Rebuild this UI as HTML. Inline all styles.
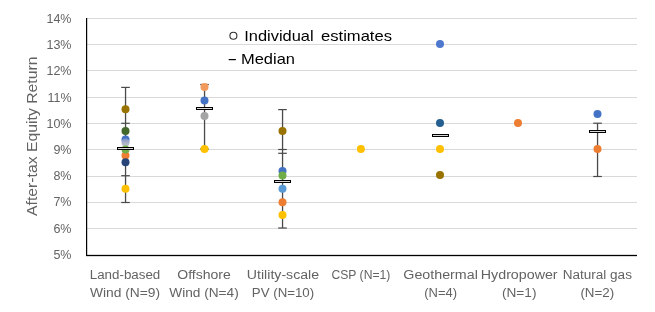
<!DOCTYPE html>
<html><head><meta charset="utf-8"><style>
html,body{margin:0;padding:0;background:#fff;}
svg{display:block;will-change:transform;}
text{font-family:"Liberation Sans",sans-serif;}
.yl{font-size:12.5px;fill:#636363;}
.xl{font-size:12.3px;fill:#636363;}
.yt{font-size:14.4px;fill:#636363;}
.lg{font-size:14.4px;fill:#000;}
</style></head><body>
<svg width="655" height="312" viewBox="0 0 655 312">
<defs><linearGradient id="gg" x1="0" y1="0" x2="0" y2="1"><stop offset="0" stop-color="#7890C8"/><stop offset="0.5" stop-color="#A8B0C8"/><stop offset="1" stop-color="#C0C4C8"/></linearGradient></defs>
<rect x="0" y="0" width="655" height="312" fill="#fff"/>
<rect x="87" y="18" width="550" height="1" fill="#d9d9d9"/>
<rect x="87" y="44" width="550" height="1" fill="#d9d9d9"/>
<rect x="87" y="70" width="550" height="1" fill="#d9d9d9"/>
<rect x="87" y="97" width="550" height="1" fill="#d9d9d9"/>
<rect x="87" y="123" width="550" height="1" fill="#d9d9d9"/>
<rect x="87" y="149" width="550" height="1" fill="#d9d9d9"/>
<rect x="87" y="176" width="550" height="1" fill="#d9d9d9"/>
<rect x="87" y="202" width="550" height="1" fill="#d9d9d9"/>
<rect x="87" y="228" width="550" height="1" fill="#d9d9d9"/>
<rect x="86" y="18" width="1.2" height="237.8" fill="#000"/>
<rect x="86" y="254.85" width="551" height="1.3" fill="#000"/>
<text x="71.5" y="23.00" text-anchor="end" class="yl">14%</text>
<text x="71.5" y="49.20" text-anchor="end" class="yl">13%</text>
<text x="71.5" y="75.40" text-anchor="end" class="yl">12%</text>
<text x="71.5" y="101.60" text-anchor="end" class="yl">11%</text>
<text x="71.5" y="127.80" text-anchor="end" class="yl">10%</text>
<text x="71.5" y="154.00" text-anchor="end" class="yl">9%</text>
<text x="71.5" y="180.20" text-anchor="end" class="yl">8%</text>
<text x="71.5" y="206.40" text-anchor="end" class="yl">7%</text>
<text x="71.5" y="232.60" text-anchor="end" class="yl">6%</text>
<text x="71.5" y="259.00" text-anchor="end" class="yl">5%</text>
<rect x="124.90" y="87.40" width="1.3" height="115.10" fill="#4a4a4a"/>
<rect x="121.20" y="86.80" width="8.6" height="1.2" fill="#4a4a4a"/>
<rect x="121.20" y="122.70" width="8.6" height="1.2" fill="#4a4a4a"/>
<rect x="121.20" y="175.10" width="8.6" height="1.2" fill="#4a4a4a"/>
<rect x="121.20" y="201.90" width="8.6" height="1.2" fill="#4a4a4a"/>
<circle cx="125.50" cy="109.20" r="4" fill="#997300"/>
<circle cx="125.50" cy="131.00" r="4" fill="#43682B"/>
<circle cx="125.50" cy="139.60" r="4" fill="#4472C4"/>
<circle cx="125.50" cy="142.40" r="4" fill="url(#gg)"/>
<circle cx="125.50" cy="155.40" r="4" fill="#ED7D31"/>
<circle cx="125.50" cy="149.60" r="4" fill="#70AD47"/>
<circle cx="125.50" cy="162.30" r="4" fill="#264478"/>
<circle cx="125.50" cy="188.80" r="4" fill="#FFC000"/>
<rect x="117" y="147" width="17" height="3" fill="#000"/>
<rect x="118" y="148" width="15" height="1" fill="#d8d8d8"/>
<rect x="203.90" y="84.50" width="1.3" height="64.50" fill="#4a4a4a"/>
<rect x="200.20" y="83.90" width="8.6" height="1.2" fill="#4a4a4a"/>
<rect x="200.20" y="148.40" width="8.6" height="1.2" fill="#4a4a4a"/>
<circle cx="204.50" cy="87.00" r="4" fill="#F19A5B"/>
<circle cx="204.50" cy="100.60" r="4" fill="#4472C4"/>
<circle cx="204.50" cy="115.90" r="4" fill="#A5A5A5"/>
<circle cx="204.50" cy="149.00" r="4" fill="#FFC000"/>
<rect x="196" y="107" width="17" height="3" fill="#000"/>
<rect x="197" y="108" width="15" height="1" fill="#d8d8d8"/>
<rect x="281.90" y="109.60" width="1.3" height="118.40" fill="#4a4a4a"/>
<rect x="278.20" y="109.00" width="8.6" height="1.2" fill="#4a4a4a"/>
<rect x="278.20" y="148.90" width="8.6" height="1.2" fill="#4a4a4a"/>
<rect x="278.20" y="152.70" width="8.6" height="1.2" fill="#4a4a4a"/>
<rect x="278.20" y="227.40" width="8.6" height="1.2" fill="#4a4a4a"/>
<circle cx="282.50" cy="130.90" r="4" fill="#997300"/>
<circle cx="282.50" cy="171.00" r="4" fill="#4472C4"/>
<circle cx="282.50" cy="175.60" r="4" fill="#70AD47"/>
<circle cx="282.50" cy="188.80" r="4" fill="#5B9BD5"/>
<circle cx="282.50" cy="202.20" r="4" fill="#ED7D31"/>
<circle cx="282.50" cy="214.90" r="4" fill="#FFC000"/>
<rect x="274" y="180" width="17" height="3" fill="#000"/>
<rect x="275" y="181" width="15" height="1" fill="#d8d8d8"/>
<circle cx="360.90" cy="149.00" r="4" fill="#FFC000"/>
<circle cx="440.00" cy="43.90" r="4" fill="#4F78CC"/>
<circle cx="440.00" cy="122.90" r="4" fill="#255E91"/>
<circle cx="440.00" cy="149.00" r="4" fill="#FFC000"/>
<circle cx="440.00" cy="175.00" r="4" fill="#997300"/>
<rect x="432" y="134" width="17" height="3" fill="#000"/>
<rect x="433" y="135" width="15" height="1" fill="#d8d8d8"/>
<circle cx="518.00" cy="122.90" r="4" fill="#ED7D31"/>
<rect x="596.90" y="123.20" width="1.3" height="53.30" fill="#4a4a4a"/>
<rect x="593.20" y="122.60" width="8.6" height="1.2" fill="#4a4a4a"/>
<rect x="593.20" y="175.90" width="8.6" height="1.2" fill="#4a4a4a"/>
<circle cx="597.50" cy="114.00" r="4" fill="#4472C4"/>
<circle cx="597.50" cy="149.10" r="4" fill="#ED7D31"/>
<rect x="589" y="130" width="17" height="3" fill="#000"/>
<rect x="590" y="131" width="15" height="1" fill="#d8d8d8"/>
<text x="125.0" y="279.0" text-anchor="middle" class="xl" textLength="70.5" lengthAdjust="spacingAndGlyphs">Land-based</text>
<text x="125.0" y="296.9" text-anchor="middle" class="xl" textLength="70.2" lengthAdjust="spacingAndGlyphs">Wind (N=9)</text>
<text x="204.0" y="279.0" text-anchor="middle" class="xl" textLength="53.5" lengthAdjust="spacingAndGlyphs">Offshore</text>
<text x="204.0" y="296.9" text-anchor="middle" class="xl" textLength="69.5" lengthAdjust="spacingAndGlyphs">Wind (N=4)</text>
<text x="283.0" y="279.0" text-anchor="middle" class="xl" textLength="72.3" lengthAdjust="spacingAndGlyphs">Utility-scale</text>
<text x="283.0" y="296.9" text-anchor="middle" class="xl" textLength="62.3" lengthAdjust="spacingAndGlyphs">PV (N=10)</text>
<text x="360.9" y="279.0" text-anchor="middle" class="xl" textLength="58.9" lengthAdjust="spacingAndGlyphs">CSP (N=1)</text>
<text x="440.6" y="279.0" text-anchor="middle" class="xl" textLength="74.5" lengthAdjust="spacingAndGlyphs">Geothermal</text>
<text x="440.6" y="296.9" text-anchor="middle" class="xl" textLength="32.7" lengthAdjust="spacingAndGlyphs">(N=4)</text>
<text x="519.2" y="279.0" text-anchor="middle" class="xl" textLength="76.8" lengthAdjust="spacingAndGlyphs">Hydropower</text>
<text x="519.2" y="296.9" text-anchor="middle" class="xl" textLength="34.5" lengthAdjust="spacingAndGlyphs">(N=1)</text>
<text x="597.3" y="279.0" text-anchor="middle" class="xl" textLength="69.3" lengthAdjust="spacingAndGlyphs">Natural gas</text>
<text x="597.3" y="296.9" text-anchor="middle" class="xl" textLength="33.8" lengthAdjust="spacingAndGlyphs">(N=2)</text>
<text transform="translate(37,136.2) rotate(-90)" text-anchor="middle" class="yt" textLength="159.5" lengthAdjust="spacingAndGlyphs">After-tax Equity Return</text>
<circle cx="233.4" cy="35.8" r="3.5" fill="none" stroke="#303030" stroke-width="1.1"/>
<text x="244.2" y="40.6" class="lg" textLength="69.4" lengthAdjust="spacingAndGlyphs">Individual</text>
<text x="321" y="40.6" class="lg" textLength="71" lengthAdjust="spacingAndGlyphs">estimates</text>
<rect x="228.7" y="59" width="7.2" height="1.2" fill="#000"/>
<text x="241" y="63.7" class="lg" textLength="54" lengthAdjust="spacingAndGlyphs">Median</text>
</svg>
</body></html>
